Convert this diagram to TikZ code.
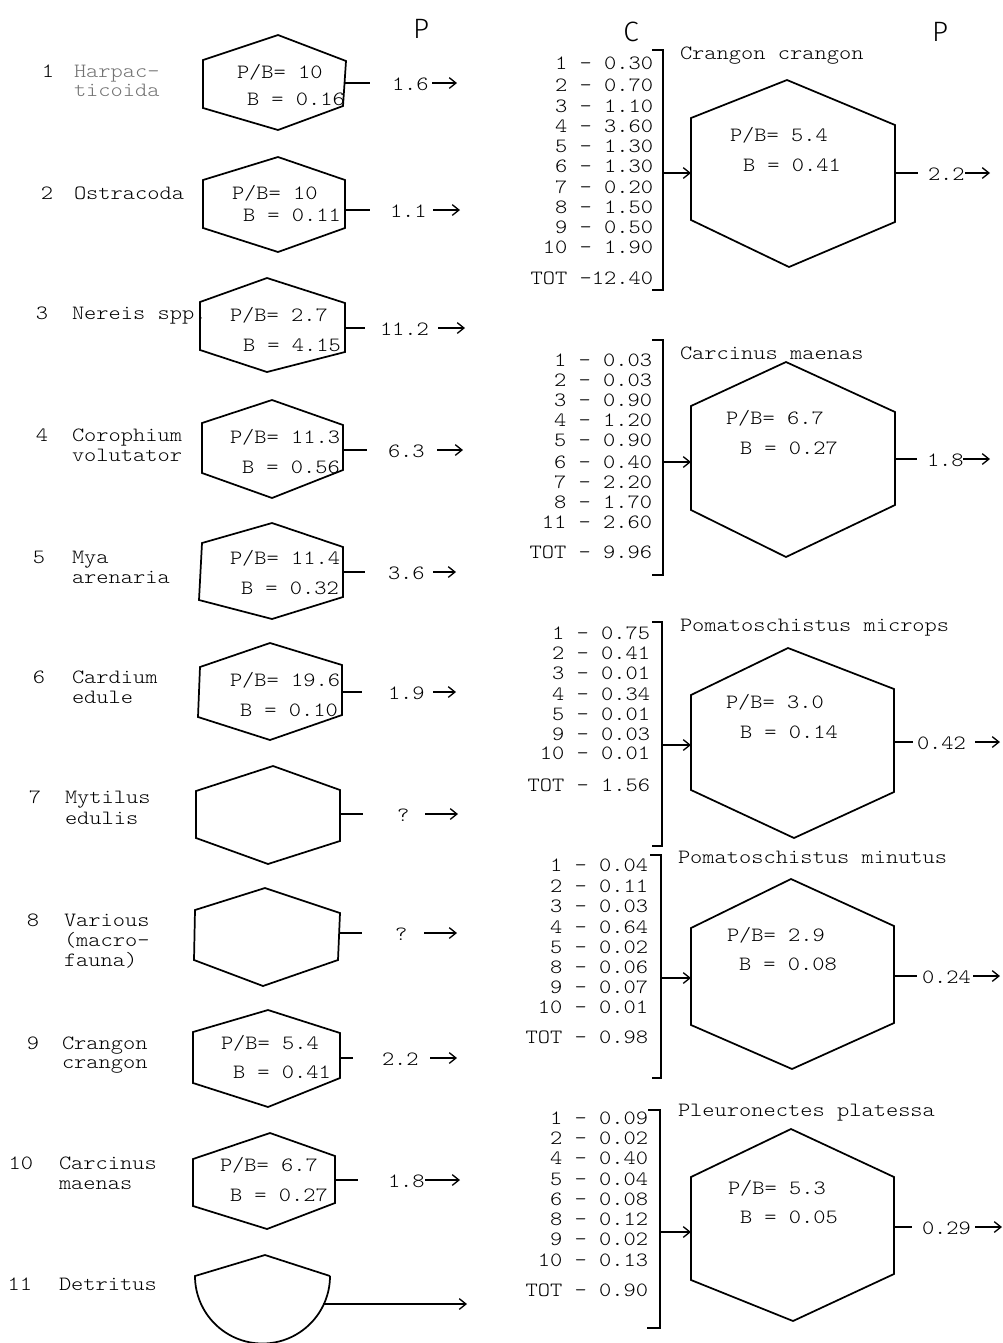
\documentclass[tikz,border=0pt]{standalone}
\usepackage{fontspec}
\setmainfont{Latin Modern Mono Light}[FakeStretch=1.15]
\newfontfamily\hdrfont{Fira Sans Light}
\usetikzlibrary{arrows.meta}
\newcommand\mono{\fontsize{15.2pt}{18pt}\selectfont}

\tikzset{
  txt/.style={font=\mono, inner sep=0pt, outer sep=0pt},
  hdr/.style={font=\hdrfont\fontsize{21pt}{24pt}\selectfont, inner sep=0pt, anchor=base},
  hexline/.style={line width=1.3pt, line join=miter},
  conn/.style={line width=1pt},
  arr/.style={line width=1pt, -{Straight Barb[length=5pt,width=8pt]}},
  brk/.style={line width=1.1pt},
}

% text placed by the visual centre of its line
\newcommand\tl[4]{\node[txt,anchor=base west] (#1) at (#2,#3+6) {#4};}
\newcommand\tr[4]{\node[txt,anchor=base east] (#1) at (#2,#3+6) {#4};}
% P/B and B values inside a box
\newcommand\pb[7]{%
  \node[txt,anchor=base west] (pb#1) at (#2,#3+6) {P/B= #6};
  \node[txt,anchor=base west] (bb#1) at (#4,#5+6) {B = #7};}
% production leaving a box: stub, value, arrow
\newcommand\flow[8]{%
  \coordinate (r#1) at (#2,#3);
  \coordinate (o#1) at (#4,#3);
  \draw[conn] (r#1) -- (o#1);
  \node[txt,anchor=base west] (v#1) at (#5,#3+7) {#6};
  \coordinate (s#1) at (#7,#3);
  \coordinate (e#1) at (#8,#3);
  \draw[arr] (s#1) -- (e#1);}

\begin{document}
\begin{tikzpicture}[x=0.75pt,y=-0.75pt]
\path[use as bounding box] (0,0) rectangle (1003,1343);

% column headers
\node[hdr] (hP1) at (421,38) {P};
\node[hdr] (hC) at (631,41) {C};
\node[hdr] (hP2) at (940,41) {P};

% ---------------- left column: prey groups ----------------
% 1
\tr{n1}{54}{71}{1}
\begin{scope}[every node/.append style={text=black!55}]
\tl{s1a}{74}{71}{Harpac-}
\tl{s1b}{74}{90}{ticoida}
\end{scope}
\draw[hexline] (203,60) -- (278,35) -- (346,61) -- (343,106) -- (278,130) -- (203,108) -- cycle;
\pb{1}{237}{72}{247}{99}{10}{0.16}
\flow{1}{345}{83}{370}{392}{1.6}{432}{457}

% 2
\tr{n2}{53}{193}{2}
\tl{s2a}{74}{193}{Ostracoda}
\draw[hexline] (203,180) -- (278,157) -- (345,180) -- (345,228) -- (278,252) -- (203,228) -- cycle;
\pb{2}{232}{193}{243}{215}{10}{0.11}
\flow{2}{345}{210}{370}{390}{1.1}{433}{460}

% 3
\tr{n3}{48}{313}{3}
\tl{s3a}{72}{313}{Nereis spp.}
\draw[hexline] (200,302) -- (267,278) -- (345,303) -- (345,352) -- (267,372) -- (200,350) -- cycle;
\pb{3}{230}{315}{243}{345}{2.7}{4.15}
\flow{3}{345}{328}{365}{380}{11.2}{438}{465}

% 4
\tr{n4}{48}{435}{4}
\tl{s4a}{72}{435}{Corophium}
\tl{s4b}{72}{455}{volutator}
\draw[hexline] (202,423) -- (272,400) -- (343,425) -- (343,470) -- (272,498) -- (202,473) -- cycle;
\pb{4}{230}{437}{242}{467}{11.3}{0.56}
\flow{4}{343}{450}{367}{388}{6.3}{437}{463}

% 5
\tr{n5}{45}{557}{5}
\tl{s5a}{72}{557}{Mya}
\tl{s5b}{72}{577}{arenaria}
\draw[hexline] (202,543) -- (272,523) -- (343,547) -- (343,597) -- (272,619) -- (199,600) -- cycle;
\pb{5}{230}{558}{241}{588}{11.4}{0.32}
\flow{5}{343}{572}{365}{388}{3.6}{433}{456}

% 6
\tr{n6}{45}{677}{6}
\tl{s6a}{72}{677}{Cardium}
\tl{s6b}{72}{697}{edule}
\draw[hexline] (200,667) -- (270,643) -- (342,665) -- (342,715) -- (270,740) -- (198,717) -- cycle;
\pb{6}{230}{680}{240}{710}{19.6}{0.10}
\flow{6}{342}{692}{362}{388}{1.9}{433}{456}

% 7
\tr{n7}{41}{797}{7}
\tl{s7a}{65}{797}{Mytilus}
\tl{s7b}{65}{818}{edulis}
\draw[hexline] (196,791) -- (273,766) -- (340,790) -- (340,841) -- (268,864) -- (196,838) -- cycle;
\flow{7}{340}{814}{363}{397}{?}{425}{458}

% 8
\tr{n8}{39}{920}{8}
\tl{s8a}{64}{920}{Various}
\tl{s8b}{64}{940}{(macro-}
\tl{s8c}{64}{960}{fauna)}
\draw[hexline] (195,910) -- (265,888) -- (340,913) -- (338,960) -- (263,986) -- (194,960) -- cycle;
\flow{8}{339}{933}{362}{395}{?}{424}{457}

% 9
\tr{n9}{39}{1043}{9}
\tl{s9a}{62}{1043}{Crangon}
\tl{s9b}{62}{1062}{crangon}
\draw[hexline] (193,1032) -- (268,1010) -- (340,1033) -- (340,1078) -- (268,1107) -- (193,1083) -- cycle;
\pb{9}{221}{1043}{233}{1072}{5.4}{0.41}
\flow{9}{340}{1058}{353}{382}{2.2}{430}{457}

% 10
\tr{n10}{33}{1163}{10}
\tl{s10a}{59}{1163}{Carcinus}
\tl{s10b}{59}{1183}{maenas}
\draw[hexline] (193,1159) -- (270,1133) -- (335,1156) -- (335,1203) -- (267,1229) -- (193,1206) -- cycle;
\pb{10}{220}{1165}{230}{1195}{6.7}{0.27}
\flow{10}{335}{1180}{358}{388}{1.8}{425}{460}

% 11: detritus pool
\tr{n11}{32}{1284}{11}
\tl{s11a}{59}{1284}{Detritus}
\draw[hexline] (330,1276) -- (265,1255) -- (195,1276) arc[start angle=180, end angle=0, radius=67.5];
\coordinate (r11) at (323,1304);
\coordinate (e11) at (467,1304);
\draw[arr] (r11) -- (e11);

% ---------------- right column: predators ----------------
% Crangon crangon
\tl{tA}{680}{53}{Crangon crangon}
\foreach \t/\y [count=\i] in {1 - 0.30/63, 2 - 0.70/85, 3 - 1.10/106, 4 - 3.60/126, 5 - 1.30/146, 6 - 1.30/166, 7 - 0.20/187, 8 - 1.50/207, 9 - 0.50/227, 10 - 1.90/247, TOT -12.40/278}
  \node[txt,anchor=base east] (cA\i) at (653,\y+6) {\t};
\draw[brk] (652,50) -- (663,50) -- (663,290) -- (652,290);
\coordinate (bA) at (663,173);
\coordinate (hA) at (691,173);
\draw[arr] (bA) -- (hA);
\draw[hexline] (691,118) -- (787,80) -- (895,125) -- (895,222) -- (789,267) -- (691,220) -- cycle;
\pb{A}{730}{135}{743}{165}{5.4}{0.41}
\flow{A}{895}{173}{918}{928}{2.2}{965}{990}

% Carcinus maenas
\tl{tB}{680}{353}{Carcinus maenas}
\foreach \t/\y [count=\i] in {1 - 0.03/360, 2 - 0.03/380, 3 - 0.90/400, 4 - 1.20/420, 5 - 0.90/440, 6 - 0.40/462, 7 - 2.20/482, 8 - 1.70/502, 11 - 2.60/522, TOT - 9.96/552}
  \node[txt,anchor=base east] (cB\i) at (652,\y+6) {\t};
\draw[brk] (652,340) -- (663,340) -- (663,575) -- (652,575);
\coordinate (bB) at (663,462);
\coordinate (hB) at (691,462);
\draw[arr] (bB) -- (hB);
\draw[hexline] (691,406) -- (786,362) -- (895,412) -- (895,505) -- (786,557) -- (691,510) -- cycle;
\pb{B}{726}{418}{740}{448}{6.7}{0.27}
\flow{B}{895}{459}{917}{927}{1.8}{963}{990}

% Pomatoschistus microps
\tl{tC}{680}{625}{Pomatoschistus microps}
\foreach \t/\y [count=\i] in {1 - 0.75/633, 2 - 0.41/653, 3 - 0.01/673, 4 - 0.34/694, 5 - 0.01/714, 9 - 0.03/734, 10 - 0.01/753, TOT - 1.56/785}
  \node[txt,anchor=base east] (cC\i) at (650,\y+6) {\t};
\draw[brk] (652,622) -- (662,622) -- (662,846) -- (652,846);
\coordinate (bC) at (662,745);
\coordinate (hC) at (691,745);
\draw[arr] (bC) -- (hC);
\draw[hexline] (691,695) -- (788,648) -- (894,689) -- (894,792) -- (794,838) -- (691,790) -- cycle;
\pb{C}{726}{702}{740}{732}{3.0}{0.14}
\flow{C}{894}{742}{913}{917}{0.42}{975}{1000}

% Pomatoschistus minutus
\tl{tD}{678}{857}{Pomatoschistus minutus}
\foreach \t/\y [count=\i] in {1 - 0.04/865, 2 - 0.11/886, 3 - 0.03/906, 4 - 0.64/927, 5 - 0.02/947, 8 - 0.06/967, 9 - 0.07/987, 10 - 0.01/1007, TOT - 0.98/1037}
  \node[txt,anchor=base east] (cD\i) at (648,\y+6) {\t};
\draw[brk] (650,855) -- (661,855) -- (661,1078) -- (652,1078);
\coordinate (bD) at (661,978);
\coordinate (hD) at (691,978);
\draw[arr] (bD) -- (hD);
\draw[hexline] (691,928) -- (791,879) -- (894,926) -- (894,1023) -- (792,1069) -- (691,1025) -- cycle;
\pb{D}{727}{935}{739}{964}{2.9}{0.08}
\flow{D}{894}{976}{917}{922}{0.24}{973}{1000}

% Pleuronectes platessa
\tl{tE}{678}{1110}{Pleuronectes platessa}
\foreach \t/\y [count=\i] in {1 - 0.09/1118, 2 - 0.02/1138, 4 - 0.40/1158, 5 - 0.04/1179, 6 - 0.08/1199, 8 - 0.12/1219, 9 - 0.02/1239, 10 - 0.13/1260, TOT - 0.90/1290}
  \node[txt,anchor=base east] (cE\i) at (648,\y+6) {\t};
\draw[brk] (648,1110) -- (660,1110) -- (660,1328) -- (647,1328);
\coordinate (bE) at (660,1232);
\coordinate (hE) at (691,1232);
\draw[arr] (bE) -- (hE);
\draw[hexline] (691,1177) -- (791,1129) -- (894,1177) -- (894,1274) -- (793,1321) -- (691,1280) -- cycle;
\pb{E}{728}{1188}{740}{1217}{5.3}{0.05}
\flow{E}{894}{1227}{912}{922}{0.29}{975}{1002}

\end{tikzpicture}
\end{document}
